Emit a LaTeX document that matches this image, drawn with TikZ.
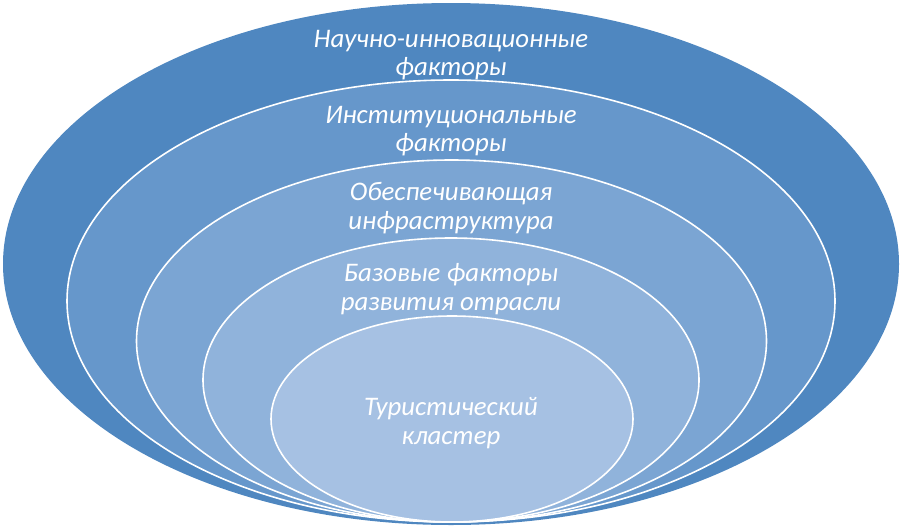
\documentclass[tikz,border=0pt]{standalone}
\usepackage{fontspec}
\setmainfont{Carlito}
\usetikzlibrary{shapes.geometric}
\definecolor{ringA}{HTML}{4F87C0}
\definecolor{ringB}{HTML}{6697CB}
\definecolor{ringC}{HTML}{7BA5D3}
\definecolor{ringD}{HTML}{90B3DB}
\definecolor{ringE}{HTML}{A6C1E3}
\tikzset{
  ring/.style={ellipse, inner sep=0pt, outer sep=0pt, draw=white, line width=1.6pt},
  outerring/.style={ellipse, inner sep=0pt, outer sep=0pt, draw=none},
  ringtext/.style={align=center, text=white, font=\fontsize{26.8}{28.5}\selectfont\itshape}
}
\begin{document}
\begin{tikzpicture}[x=1pt, y=-1pt]
  \useasboundingbox (0,0) rectangle (902,528);
  % nested rings, outer to inner
  \node[outerring, fill=ringA, minimum width=896pt, minimum height=522pt] (layer1) at (451,264) {};
  \node[ring, fill=ringB, minimum width=768pt, minimum height=442pt] (layer2) at (451,301) {};
  \node[ring, fill=ringC, minimum width=630pt, minimum height=362pt] (layer3) at (451.5,341) {};
  \node[ring, fill=ringD, minimum width=496pt, minimum height=284pt] (layer4) at (451,380) {};
  \node[ring, fill=ringE, minimum width=362pt, minimum height=206pt] (layer5) at (452,419) {};
  % labels
  \node[ringtext] (txt1) at (451,55) {Научно-инновационные\\факторы};
  \node[ringtext] (txt2) at (451,131) {Институциональные\\факторы};
  \node[ringtext] (txt3) at (451,208) {Обеспечивающая\\инфраструктура};
  \node[ringtext] (txt4) at (451,289) {Базовые факторы\\развития отрасли};
  \node[ringtext] (txt5) at (451,423) {Туристический\\кластер};
\end{tikzpicture}
\end{document}
